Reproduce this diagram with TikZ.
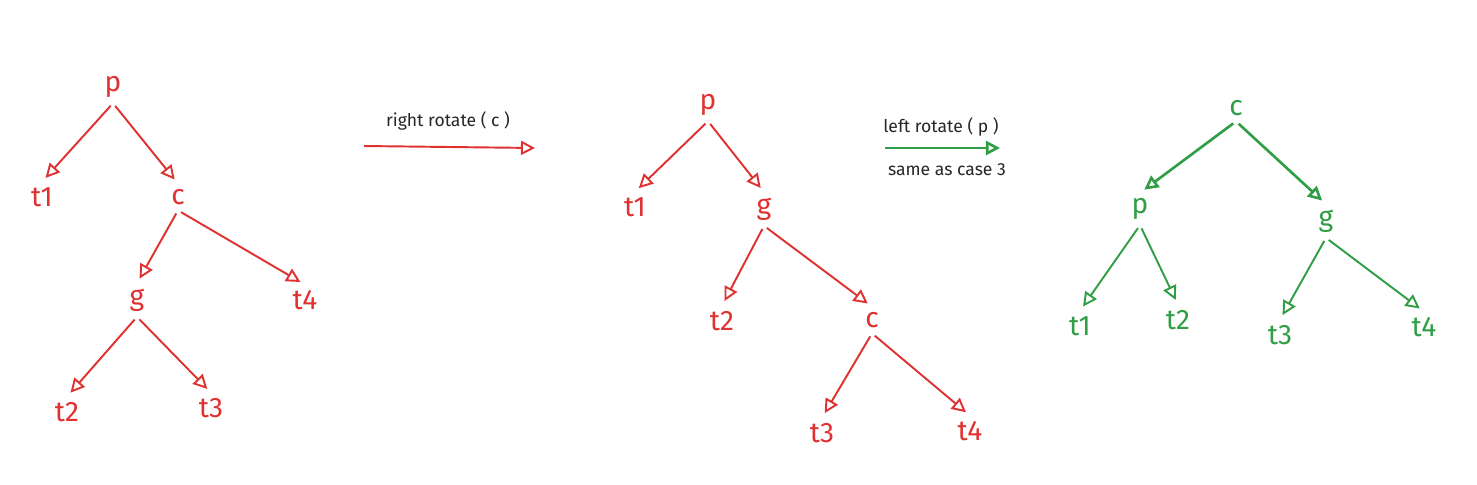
\documentclass[tikz,border=0pt]{standalone}
\usepackage{fontspec}
\setmainfont{Fira Sans}
\usetikzlibrary{arrows.meta}
\definecolor{exred}{HTML}{E03131}
\definecolor{exgreen}{HTML}{2F9E44}
\tikzset{
	lbl/.style={font=\fontsize{16}{16}\selectfont, inner sep=3pt},
	rlbl/.style={lbl, text=exred},
	glbl/.style={lbl, text=exgreen},
	note/.style={font=\fontsize{10}{10}\selectfont, text=black!85},
	link/.style={line width=1.1pt, -{Triangle[open, length=8pt, width=8pt]}, shorten >=3pt, shorten <=2pt},
}

\begin{document}
\begin{tikzpicture}[x=0.02cm, y=-0.02cm]
		%%%%% START %%%%%
		\useasboundingbox (0, 0) rectangle (1477, 484);
		
		% tree before
		\node[rlbl] (p1) at (113, 87) {p};
		\node[rlbl] (t11) at (42, 197) {t1};
		\node[rlbl] (c1) at (178, 197) {c};
		\node[rlbl] (g1) at (137, 300) {g};
		\node[rlbl] (t41) at (305, 300) {t4};
		\node[rlbl] (t21) at (67, 412) {t2};
		\node[rlbl] (t31) at (211, 408) {t3};
		
		\draw[link, exred] (p1.south) -- (t11.north);
		\draw[link, exred] (p1.south) -- (c1.north);
		\draw[link, exred] (c1.south) -- (g1.north);
		\draw[link, exred] (c1.south) -- (t41.north);
		\draw[link, exred] (g1.south) -- (t21.north);
		\draw[link, exred] (g1.south) -- (t31.north);
		
		% right rotate
		\coordinate (rr1) at (364, 146);
		\coordinate (rr2) at (535, 148);
		\draw[link, exred, shorten >=0pt, shorten <=0pt] (rr1) -- (rr2);
		\node[note] (rrlabel) at (448, 121) {right rotate ( c )};
		
		% tree after right rotate
		\node[rlbl] (p2) at (708, 105) {p};
		\node[rlbl] (t12) at (635, 207) {t1};
		\node[rlbl] (g2) at (764, 209) {g};
		\node[rlbl] (t22) at (722, 321) {t2};
		\node[rlbl] (c2) at (872, 320) {c};
		\node[rlbl] (t32) at (822, 433) {t3};
		\node[rlbl] (t42) at (970, 431) {t4};
		
		\draw[link, exred] (p2.south) -- (t12.north);
		\draw[link, exred] (p2.south) -- (g2.north);
		\draw[link, exred] (g2.south) -- (t22.north);
		\draw[link, exred] (g2.south) -- (c2.north);
		\draw[link, exred] (c2.south) -- (t32.north);
		\draw[link, exred] (c2.south) -- (t42.north);
		
		% left rotate
		\coordinate (lr1) at (885, 148);
		\coordinate (lr2) at (1000, 148);
		\draw[link, exgreen, line width=1.5pt, shorten >=0pt, shorten <=0pt] (lr1) -- (lr2);
		\node[note] (lrlabel) at (941, 127) {left rotate ( p )};
		\node[note] (caselabel) at (947, 170) {same as case 3};
		
		% tree after left rotate
		\node[glbl] (c3) at (1236, 108) {c};
		\node[glbl] (p3) at (1140, 209) {p};
		\node[glbl] (g3) at (1326, 221) {g};
		\node[glbl] (t13) at (1080, 326) {t1};
		\node[glbl] (t23) at (1178, 320) {t2};
		\node[glbl] (t33) at (1280, 335) {t3};
		\node[glbl] (t43) at (1424, 327) {t4};
		
		\draw[link, exgreen, line width=1.5pt] (c3.south) -- (p3.north);
		\draw[link, exgreen, line width=1.5pt] (c3.south) -- (g3.north);
		\draw[link, exgreen] (p3.south) -- (t13.north);
		\draw[link, exgreen] (p3.south) -- (t23.north);
		\draw[link, exgreen] (g3.south) -- (t33.north);
		\draw[link, exgreen] (g3.south) -- (t43.north);
		%%%%% END %%%%%
	\end{tikzpicture}
\end{document}
